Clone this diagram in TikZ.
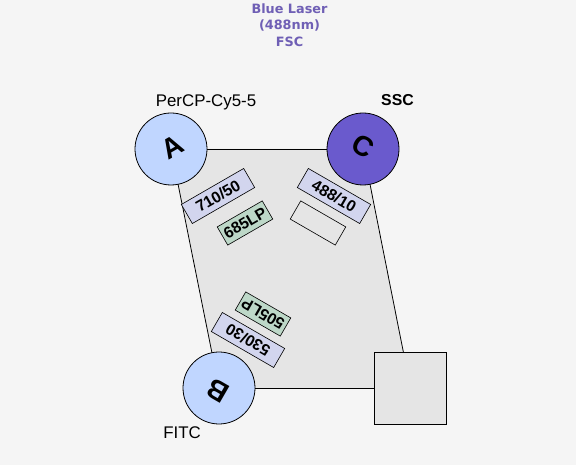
\documentclass[tikz,border=0pt]{standalone}
\usepackage{fontspec}
\setmainfont{Liberation Sans}
\newfontfamily\titlefont{DejaVu Sans}
\usetikzlibrary{backgrounds}
\definecolor{PageBg}{HTML}{F5F5F5}
\definecolor{PlateGray}{HTML}{E5E5E5}
\definecolor{DetBlue}{HTML}{C0D6FF}
\definecolor{DetViolet}{HTML}{6A5ACD}
\definecolor{TitleViolet}{HTML}{6F5FB5}
\definecolor{FilterBlue}{HTML}{D2D5EE}
\definecolor{MirrorGreen}{HTML}{BDD8C8}
\tikzset{
  detector/.style={circle, draw=black, line width=0.45pt, minimum size=1.44cm, inner sep=0pt},
  detletter/.style={inner sep=0pt, font=\fontsize{16}{16}\selectfont\bfseries},
  filterbox/.style={draw=black, line width=0.35pt, fill=FilterBlue, minimum width=1.44cm, minimum height=0.44cm, inner sep=0pt, font=\fontsize{9}{9}\selectfont\bfseries},
  mirrorbox/.style={draw=black, line width=0.35pt, fill=MirrorGreen, minimum width=1.04cm, minimum height=0.42cm, inner sep=0pt, font=\fontsize{9}{9}\selectfont\bfseries},
  dyelabel/.style={font=\fontsize{9.6}{9.6}\selectfont, inner sep=0pt}
}
\begin{document}
\begin{tikzpicture}
      %% Detectors
      \node[detector, fill=DetBlue] (detA) at (3.42,6.32) {};
      \node[detector, fill=DetViolet] (detC) at (7.26,6.32) {};
      \node[detector, fill=DetBlue] (detB) at (4.38,1.54) {};
      \node[detletter, rotate=30] (letA) at (3.44,6.36) {A};
      \node[detletter, rotate=-30] (letC) at (7.26,6.38) {C};
      \node[detletter, rotate=150] (letB) at (4.36,1.48) {B};
      %% Laser port
      \node[draw=black, line width=0.5pt, fill=PlateGray, minimum size=1.44cm, inner sep=0pt] (port) at (8.21,1.54) {};
      %% Plate under everything
      \begin{scope}[on background layer]
        \fill[PageBg] (0,0) rectangle (11.52,9.3);
        \fill[PlateGray] (detA.center) -- (detC.center) -- (port.center) -- (detB.center) -- cycle;
        \draw[line width=0.55pt] (detA.center) -- (detC.center);
        \draw[line width=0.45pt] (detC.center) -- (port.center);
        \draw[line width=0.55pt] (port.center) -- (detB.center);
        \draw[line width=0.45pt] (detB.center) -- (detA.center);
      \end{scope}
      %% Filters
      \node[filterbox, rotate=30] (f710) at (4.36,5.38) {710/50};
      \node[mirrorbox, rotate=30] (m685) at (4.90,4.84) {685LP};
      \node[filterbox, rotate=-30] (f488) at (6.68,5.38) {488/10};
      \node[mirrorbox, rotate=-30, fill=PlateGray] (blank) at (6.36,4.84) {};
      \node[mirrorbox, rotate=150] (m505) at (5.26,3.02) {505LP};
      \node[filterbox, rotate=150] (f530) at (4.96,2.50) {530/30};
      %% Labels
      \node[dyelabel] (percp) at (4.12,7.26) {PerCP-Cy5-5};
      \node[dyelabel, font=\fontsize{9}{9}\selectfont\bfseries] (ssc) at (7.95,7.29) {SSC};
      \node[dyelabel] (fitc) at (3.64,0.64) {FITC};
      \node[text=TitleViolet, font=\titlefont\fontsize{7.3}{9.35}\selectfont\bfseries, align=center, inner sep=0pt] (laser) at (5.79,8.80) {Blue Laser\\(488nm)\\FSC};
\end{tikzpicture}
\end{document}
